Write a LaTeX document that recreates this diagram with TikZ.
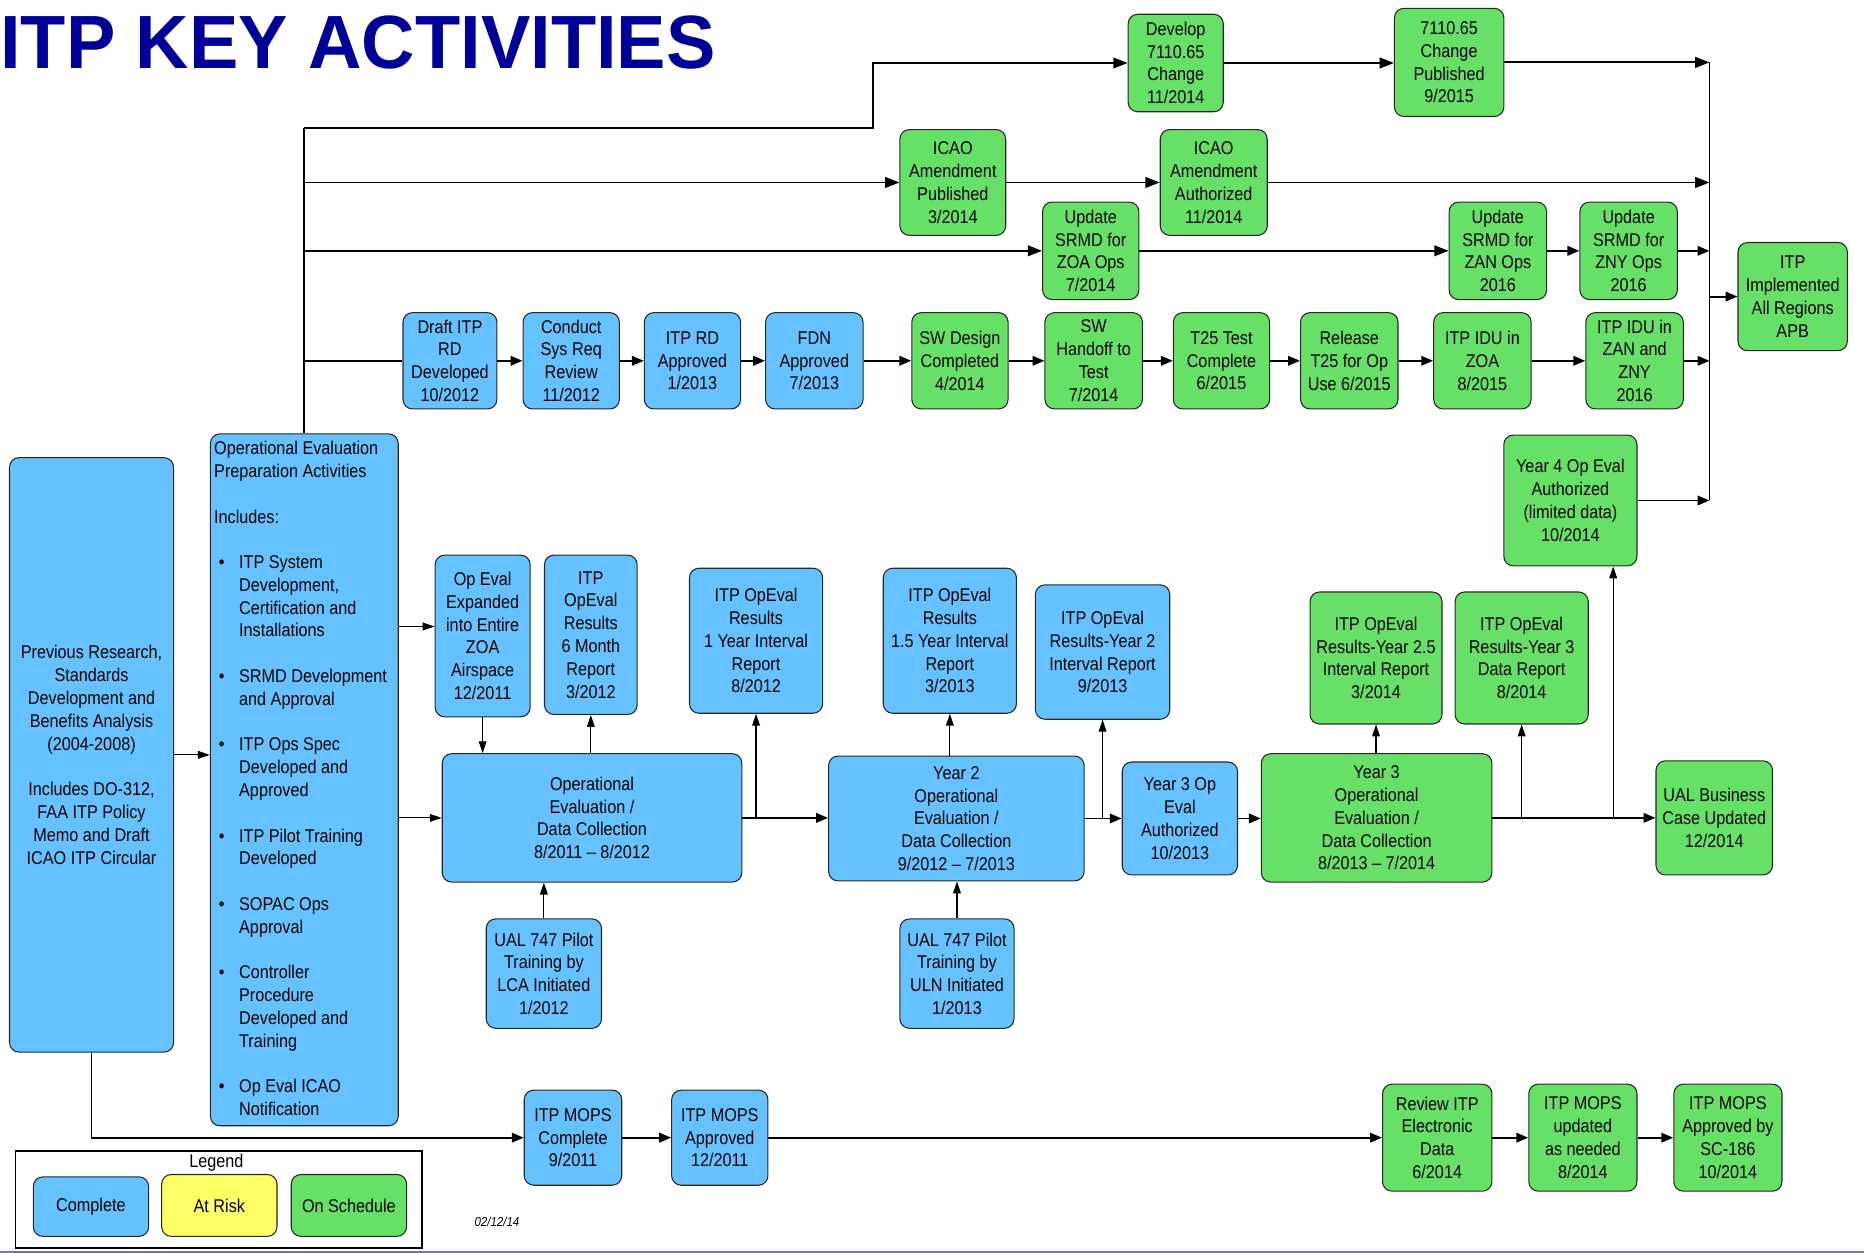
\documentclass[tikz,border=0pt]{standalone}
\usepackage{fontspec}
\setmainfont{Liberation Sans}[FakeStretch=0.88]
\newfontfamily\titlefont{Liberation Sans}[FakeStretch=0.98]
\usetikzlibrary{arrows.meta}
\definecolor{cblue}{RGB}{102,194,255}
\definecolor{cgreen}{RGB}{102,224,102}
\definecolor{cyellow}{RGB}{255,255,102}
\definecolor{ctitle}{RGB}{0,0,153}
\definecolor{cedge}{RGB}{40,40,40}
\definecolor{cfoot}{RGB}{110,120,160}
\newcommand\myfnt{\fontsize{15.5}{19.17}\selectfont}
\newcommand\mybox[7]{\node[box,#6,minimum width={(#4-#2)*1pt},minimum height={(#5-#3)*1pt}] (#1) at ({(#2+#4)/2},{(#3+#5)/2}) {#7};}
\begin{document}
\begin{tikzpicture}[x=1pt,y=-1pt,
  box/.style={draw=cedge,line width=0.9pt,rounded corners=8pt,align=center,inner sep=0pt,font=\myfnt},
  blu/.style={fill=cblue},
  grn/.style={fill=cgreen},
  yel/.style={fill=cyellow},
  ln/.style={draw=black,line width=1.6pt},
  arrA/.style={ln,-{Triangle[length=12pt,width=9pt]}},
  arrB/.style={ln,-{Triangle[length=10pt,width=8pt]}},
  tarr/.style={draw=black,line width=1pt,-{Triangle[length=10pt,width=6.5pt]}}]
\useasboundingbox (0,0) rectangle (1568,1054);
\fill[white] (0,0) rectangle (1568,1054);
\node[anchor=base west,inner sep=0pt,text=ctitle,font=\titlefont\bfseries\fontsize{63.5}{63.5}\selectfont] (title) at (0,57.5) {ITP KEY ACTIVITIES};

% top rows
\mybox{dev}{949}{12}{1029}{94}{grn}{Develop\\7110.65\\Change\\11/2014}
\mybox{pub}{1173}{7}{1265}{98}{grn}{7110.65\\Change\\Published\\9/2015}
\mybox{icaop}{757}{109}{846}{198}{grn}{ICAO\\Amendment\\Published\\3/2014}
\mybox{icaoa}{976}{109}{1066}{198}{grn}{ICAO\\Amendment\\Authorized\\11/2014}
\mybox{szoa}{877}{170}{958}{252}{grn}{Update\\SRMD for\\ZOA Ops\\7/2014}
\mybox{szan}{1219}{170}{1301}{252}{grn}{Update\\SRMD for\\ZAN Ops\\2016}
\mybox{szny}{1329}{170}{1411}{252}{grn}{Update\\SRMD for\\ZNY Ops\\2016}
\mybox{impl}{1462}{204}{1554}{295}{grn}{ITP\\Implemented\\All Regions\\APB}

\mybox{draft}{339}{263}{418}{344}{blu}{Draft ITP\\RD\\Developed\\10/2012}
\mybox{csr}{440}{263}{521}{344}{blu}{Conduct\\Sys Req\\Review\\11/2012}
\mybox{rdapp}{542}{263}{623}{344}{blu}{ITP RD\\Approved\\1/2013}
\mybox{fdn}{644}{263}{726}{344}{blu}{FDN\\Approved\\7/2013}
\mybox{swd}{767}{263}{848}{344}{grn}{SW Design\\Completed\\4/2014}
\mybox{swh}{879}{263}{961}{344}{grn}{SW\\Handoff to\\Test\\7/2014}
\mybox{tt}{987}{263}{1068}{344}{grn}{T25 Test\\Complete\\6/2015}
\mybox{rel}{1094}{263}{1176}{344}{grn}{Release\\T25 for Op\\Use 6/2015}
\mybox{iduzoa}{1206}{263}{1288}{344}{grn}{ITP IDU in\\ZOA\\8/2015}
\mybox{iduzan}{1334}{263}{1416}{344}{grn}{ITP IDU in\\ZAN and\\ZNY\\2016}

\mybox{yfour}{1265}{366}{1377}{476}{grn}{Year 4 Op Eval\\Authorized\\(limited data)\\10/2014}

% middle
\mybox{prev}{8}{385}{146}{885}{blu}{Previous Research,\\Standards\\Development and\\Benefits Analysis\\(2004-2008)\\[19.17pt]Includes DO-312,\\FAA ITP Policy\\Memo and Draft\\ICAO ITP Circular}
\mybox{prep}{177}{365}{335}{947}{blu}{}
\node[anchor=north west,inner sep=0pt,align=left,font=\myfnt] (preptxt) at (180,371) {Operational Evaluation\\
Preparation Activities\\[19.17pt]
Includes:\\[19.17pt]
\hspace*{4pt}\makebox[17pt][l]{•}ITP System\\
\hspace*{21pt}Development,\\
\hspace*{21pt}Certification and\\
\hspace*{21pt}Installations\\[19.17pt]
\hspace*{4pt}\makebox[17pt][l]{•}SRMD Development\\
\hspace*{21pt}and Approval\\[19.17pt]
\hspace*{4pt}\makebox[17pt][l]{•}ITP Ops Spec\\
\hspace*{21pt}Developed and\\
\hspace*{21pt}Approved\\[19.17pt]
\hspace*{4pt}\makebox[17pt][l]{•}ITP Pilot Training\\
\hspace*{21pt}Developed\\[19.17pt]
\hspace*{4pt}\makebox[17pt][l]{•}SOPAC Ops\\
\hspace*{21pt}Approval\\[19.17pt]
\hspace*{4pt}\makebox[17pt][l]{•}Controller\\
\hspace*{21pt}Procedure\\
\hspace*{21pt}Developed and\\
\hspace*{21pt}Training\\[19.17pt]
\hspace*{4pt}\makebox[17pt][l]{•}Op Eval ICAO\\
\hspace*{21pt}Notification};

\mybox{exp}{366}{467}{446}{603}{blu}{Op Eval\\Expanded\\into Entire\\ZOA\\Airspace\\12/2011}
\mybox{six}{458}{467}{536}{601}{blu}{ITP\\OpEval\\Results\\6 Month\\Report\\3/2012}
\mybox{one}{580}{478}{692}{600}{blu}{ITP OpEval\\Results\\1 Year Interval\\Report\\8/2012}
\mybox{onefive}{743}{478}{855}{600}{blu}{ITP OpEval\\Results\\1.5 Year Interval\\Report\\3/2013}
\mybox{two}{871}{492}{984}{605}{blu}{ITP OpEval\\Results-Year 2\\Interval Report\\9/2013}
\mybox{twofive}{1102}{498}{1213}{609}{grn}{ITP OpEval\\Results-Year 2.5\\Interval Report\\3/2014}
\mybox{three}{1224}{498}{1336}{609}{grn}{ITP OpEval\\Results-Year 3\\Data Report\\8/2014}
\mybox{dca}{372}{634}{624}{742}{blu}{Operational\\Evaluation /\\Data Collection\\8/2011 – 8/2012}
\mybox{dcb}{697}{636}{912}{741}{blu}{Year 2\\Operational\\Evaluation /\\Data Collection\\9/2012 – 7/2013}
\mybox{auth}{944}{641}{1041}{736}{blu}{Year 3 Op\\Eval\\Authorized\\10/2013}
\mybox{dcc}{1061}{634}{1255}{742}{grn}{Year 3\\Operational\\Evaluation /\\Data Collection\\8/2013 – 7/2014}
\mybox{ualbc}{1393}{640}{1491}{736}{grn}{UAL Business\\Case Updated\\12/2014}
\mybox{lca}{409}{773}{506}{865}{blu}{UAL 747 Pilot\\Training by\\LCA Initiated\\1/2012}
\mybox{uln}{757}{773}{853}{865}{blu}{UAL 747 Pilot\\Training by\\ULN Initiated\\1/2013}

% bottom
\mybox{mc}{441}{917}{523}{997}{blu}{ITP MOPS\\Complete\\9/2011}
\mybox{ma}{565}{917}{646}{997}{blu}{ITP MOPS\\Approved\\12/2011}
\mybox{rev}{1163}{912}{1255}{1002}{grn}{Review ITP\\Electronic\\Data\\6/2014}
\mybox{upd}{1286}{912}{1377}{1002}{grn}{ITP MOPS\\updated\\as needed\\8/2014}
\mybox{sc}{1408}{912}{1499}{1002}{grn}{ITP MOPS\\Approved by\\SC-186\\10/2014}

% legend
\node[draw=black,line width=1.4pt,minimum width=342pt,minimum height=82pt,inner sep=0pt] (legend) at (184,1009) {};
\node[font=\myfnt,inner sep=0pt] (legtitle) at (182,978) {Legend};
\mybox{lc}{28}{990}{125}{1040}{blu}{Complete}
\mybox{lr}{136}{988}{233}{1040}{yel}{At Risk}
\mybox{ls}{245}{988}{342}{1040}{grn}{On Schedule}
\node[font=\itshape\fontsize{11}{11}\selectfont,inner sep=0pt] (date) at (418,1028) {02/12/14};

% connectors: top
\coordinate (t1) at (256,108);
\coordinate (t2) at (734,108);
\coordinate (rb) at (1438,0);
\coordinate (b4) at (1357,0);
\coordinate (y527) at (0,527);
\draw[ln] (prep.north) -- (t1);
\draw[arrA] (t1) -- (t2) |- (dev.west);
\draw[arrA] (t1 |- icaop.west) -- (icaop.west);
\draw[arrA] (t1 |- szoa.west) -- (szoa.west);
\draw[ln] (t1 |- draft.west) -- (draft.west);
\draw[arrA] (dev.east) -- (pub.west |- dev.east);
\draw[arrA] (pub.east) -- (pub.east -| rb);
\draw[arrA] (icaop.east) -- (icaoa.west);
\draw[arrA] (icaoa.east) -- (icaoa.east -| rb);
\draw[arrA] (szoa.east) -- (szan.west);
\draw[arrB] (szan.east) -- (szny.west);
\draw[arrB] (szny.east) -- (szny.east -| rb);
\draw[arrB] (draft.east) -- (csr.west);
\draw[arrB] (csr.east) -- (rdapp.west);
\draw[arrB] (rdapp.east) -- (fdn.west);
\draw[arrB] (fdn.east) -- (swd.west);
\draw[arrB] (swd.east) -- (swh.west);
\draw[arrB] (swh.east) -- (tt.west);
\draw[arrB] (tt.east) -- (rel.west);
\draw[arrB] (rel.east) -- (iduzoa.west);
\draw[arrB] (iduzoa.east) -- (iduzan.west);
\draw[arrB] (iduzan.east) -- (iduzan.east -| rb);
\draw[arrB] (yfour.east) -- (yfour.east -| rb);
\draw[ln] (pub.east -| rb) -- (yfour.east -| rb);
\draw[arrB] (impl.west -| rb) -- (impl.west);

% connectors: middle
\draw[tarr] (prev.east) -- (prev.east -| prep.west);
\draw[tarr] (prep.east |- y527) -- (exp.west |- y527);
\draw[tarr] (prep.east |- dca.west) -- (dca.west);
\draw[tarr] (exp.south) -- (exp.south |- dca.north);
\draw[tarr] (six.south |- dca.north) -- (six.south);
\draw[arrB] (dca.east) -- (dca.east -| dcb.west);
\draw[tarr] (one.south |- dca.east) -- (one.south);
\draw[tarr] (onefive.south |- dcb.north) -- (onefive.south);
\draw[arrB] (dcb.east) -- (dcb.east -| auth.west);
\draw[tarr] (two.south |- dcb.east) -- (two.south);
\draw[arrB] (auth.east) -- (auth.east -| dcc.west);
\draw[tarr] (twofive.south |- dcc.north) -- (twofive.south);
\draw[arrB] (dcc.east) -- (dcc.east -| ualbc.west);
\draw[tarr] (three.south |- dcc.east) -- (three.south);
\draw[tarr] (b4 |- dcc.east) -- (b4 |- yfour.south);
\draw[tarr] (lca.north) -- (lca.north |- dca.south);
\draw[tarr] (uln.north) -- (uln.north |- dcb.south);

% connectors: bottom
\draw[arrB] (prev.south) |- (mc.west);
\draw[arrB] (mc.east) -- (ma.west);
\draw[arrB] (ma.east) -- (rev.west);
\draw[arrB] (rev.east) -- (upd.west);
\draw[arrB] (upd.east) -- (sc.west);

\draw[cfoot,line width=1.4pt] (0,1053) -- (1568,1053);
\end{tikzpicture}
\end{document}
